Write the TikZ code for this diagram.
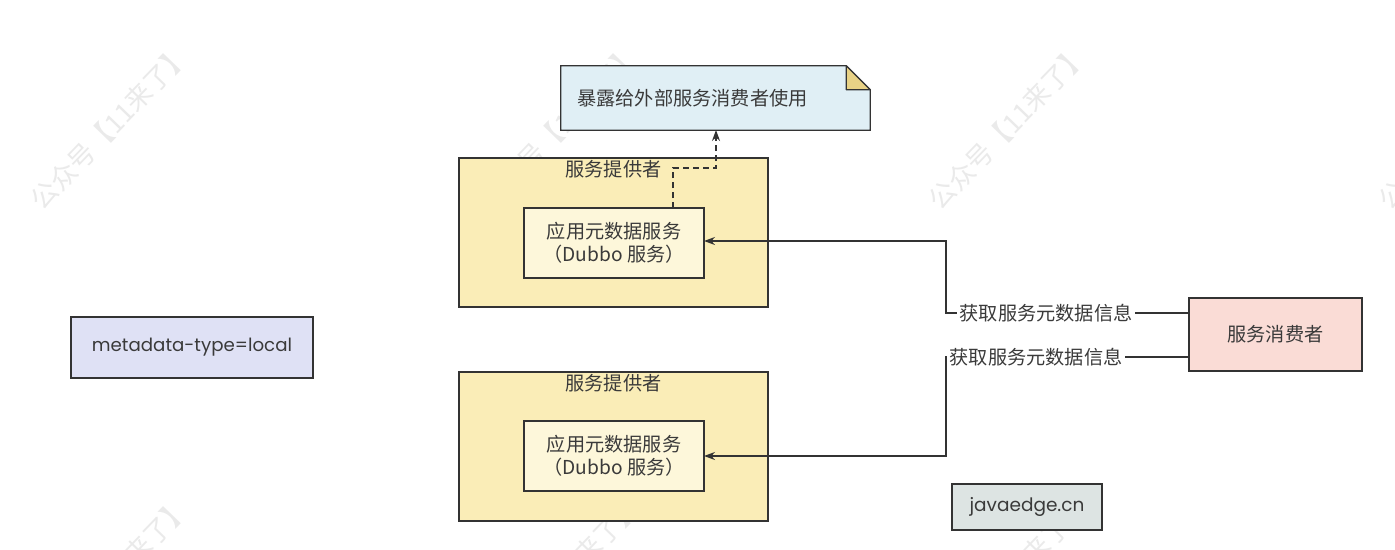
\documentclass[tikz,border=0pt]{standalone}
\usepackage{fontspec}
\setmainfont{Noto Sans CJK SC}
\newfontfamily\latinfont{Poppins}
\usetikzlibrary{arrows.meta}
\definecolor{strokec}{HTML}{333333}
\definecolor{textc}{HTML}{3A3A3A}
\definecolor{notefill}{HTML}{E0EFF5}
\definecolor{foldfill}{HTML}{E8D286}
\definecolor{provfill}{HTML}{FAEDB7}
\definecolor{innerfill}{HTML}{FDF7DA}
\definecolor{consfill}{HTML}{FADCD6}
\definecolor{metafill}{HTML}{DFE1F5}
\definecolor{javafill}{HTML}{DDE4E3}
\definecolor{wmc}{HTML}{EAEAEA}
\tikzset{
  box/.style={draw=strokec, line width=1.2pt, text=textc, inner sep=0pt, align=center, font=\fontsize{19.2}{23}\selectfont},
  lbl/.style={text=textc, inner sep=0pt, font=\fontsize{19.2}{23}\selectfont},
  conn/.style={draw=strokec, line width=1.2pt, -{Stealth[length=11pt,width=8pt]}},
  plain/.style={draw=strokec, line width=1.2pt},
  wm/.style={text=wmc, rotate=46, font=\fontsize{26.5}{30}\selectfont, inner sep=0pt}
}
\begin{document}
\begin{tikzpicture}[x=1pt,y=-1pt]
\useasboundingbox (0,0) rectangle (1395,549);
\fill[white] (0,0) rectangle (1395,549);
% watermarks
\foreach \wx/\wy/\wn in {110/127/a,560/127/b,1008/127/c,1458/127/d,110/580/e,560/580/f,1008/580/g}
  \node[wm] (wm\wn) at (\wx,\wy) {公众号【11来了】};
% note
\node[lbl, minimum width=309pt, minimum height=64pt] (note) at (715.5,98) {};
\draw[plain, fill=notefill] (note.north west) -- ([xshift=-24pt]note.north east) -- ([yshift=-24pt]note.north east) -- (note.south east) -- (note.south west) -- cycle;
\draw[plain, fill=foldfill, line join=round] ([xshift=-24pt]note.north east) -- ([xshift=-24pt,yshift=-24pt]note.north east) -- ([yshift=-24pt]note.north east) -- cycle;
\node[lbl, anchor=west] (notetext) at (577,98) {暴露给外部服务消费者使用};
% providers
\node[box, fill=provfill, minimum width=309pt, minimum height=149pt] (prov1) at (613.5,232.5) {};
\node[lbl] (prov1t) at (613.5,169) {服务提供者};
\node[box, fill=innerfill, minimum width=180pt, minimum height=70pt] (inner1) at (614,243) {应用元数据服务\\（Dubbo 服务）};
\node[box, fill=provfill, minimum width=309pt, minimum height=149pt] (prov2) at (613.5,446.5) {};
\node[lbl] (prov2t) at (613.5,383) {服务提供者};
\node[box, fill=innerfill, minimum width=180pt, minimum height=70pt] (inner2) at (614,456) {应用元数据服务\\（Dubbo 服务）};
% consumer
\node[box, fill=consfill, minimum width=173pt, minimum height=73pt] (cons) at (1275.5,334.5) {服务消费者};
% metadata
\node[box, fill=metafill, minimum width=242pt, minimum height=61pt, font=\latinfont\fontsize{18.2}{21}\selectfont] (meta) at (192,347.5) {metadata-type=local};
% javaedge
\node[box, fill=javafill, minimum width=150pt, minimum height=46pt, font=\latinfont\fontsize{18.5}{21}\selectfont] (java) at (1027,507) {javaedge.cn};
% dashed connector
\coordinate (d0) at (673,208);
\coordinate (d1) at (673,168);
\coordinate (d2) at (716,168);
\coordinate (d3) at (716,130);
\draw[conn, dash pattern=on 6pt off 4pt] (d0) -- (d1) -- (d2) -- (d3);
% consumer connectors
\coordinate (c1a) at (1189,313);
\coordinate (c1b) at (946,313);
\coordinate (c1c) at (946,241);
\coordinate (c1d) at (704,241);
\draw[conn] (c1a) -- (c1b) -- (c1c) -- (c1d);
\node[lbl, fill=white, inner xsep=3pt, inner ysep=1pt] (lab1) at (1046,313) {获取服务元数据信息};
\coordinate (c2a) at (1189,357);
\coordinate (c2b) at (946,357);
\coordinate (c2c) at (946,456);
\coordinate (c2d) at (704,456);
\draw[conn] (c2a) -- (c2b) -- (c2c) -- (c2d);
\node[lbl, fill=white, inner xsep=3pt, inner ysep=1pt] (lab2) at (1036,357) {获取服务元数据信息};
\end{tikzpicture}
\end{document}
